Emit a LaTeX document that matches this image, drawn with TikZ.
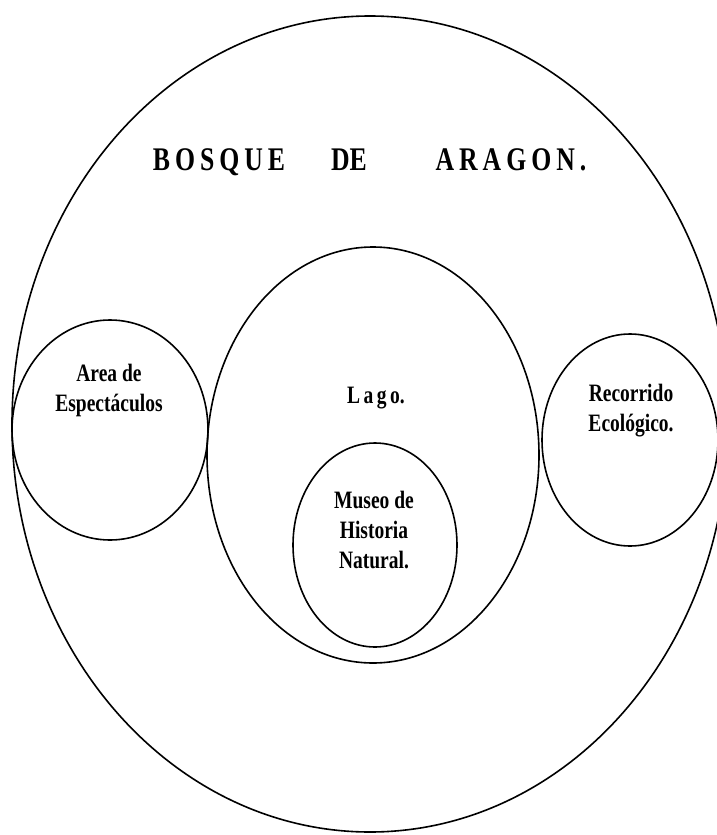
\documentclass[tikz,border=0pt]{standalone}
\usepackage{fontspec}
\newfontfamily\narrowfont[FakeStretch=0.78]{Liberation Serif}
\usepackage{tikz}

\newcommand\ls{\kern5pt}

\begin{document}
\begin{tikzpicture}
[x=1pt,y=-1pt,line width=1.6pt]
\tikzstyle{zone text}=[font=\narrowfont\bfseries\fontsize{25}{30}\selectfont,align=center,inner sep=0]
\tikzstyle{title text}=[font=\narrowfont\bfseries\fontsize{33}{40}\selectfont,anchor=base,inner sep=0]

\useasboundingbox (0,0) rectangle (716,835);

% ellipses
\draw (370,424) ellipse [x radius=358,y radius=408];
\draw (110,430) ellipse [x radius=98,y radius=110];
\draw (373,455) ellipse [x radius=166,y radius=208];
\draw (375,545) ellipse [x radius=82,y radius=102];
\draw (630,440) ellipse [x radius=88,y radius=106];

% labels
\node(bosque)[title text] at (219,170){B\ls O\ls S\ls Q\ls U\ls E};
\node(de)[title text] at (349,170){DE};
\node(aragon)[title text] at (511,170){A\ls R\ls A\ls G\ls O\ls N\ls .};

\node(areaesp)[zone text] at (109,390){Area de\\Espectáculos};
\node(lago)[zone text,anchor=base] at (376,403){L\kern3.5pt a\kern3.5pt g\kern3.5pt o.};
\node(museo)[zone text] at (374,530){Museo de\\Historia\\Natural.};
\node(recorrido)[zone text] at (631,411){Recorrido\\Ecológico.};
\end{tikzpicture}
\end{document}
